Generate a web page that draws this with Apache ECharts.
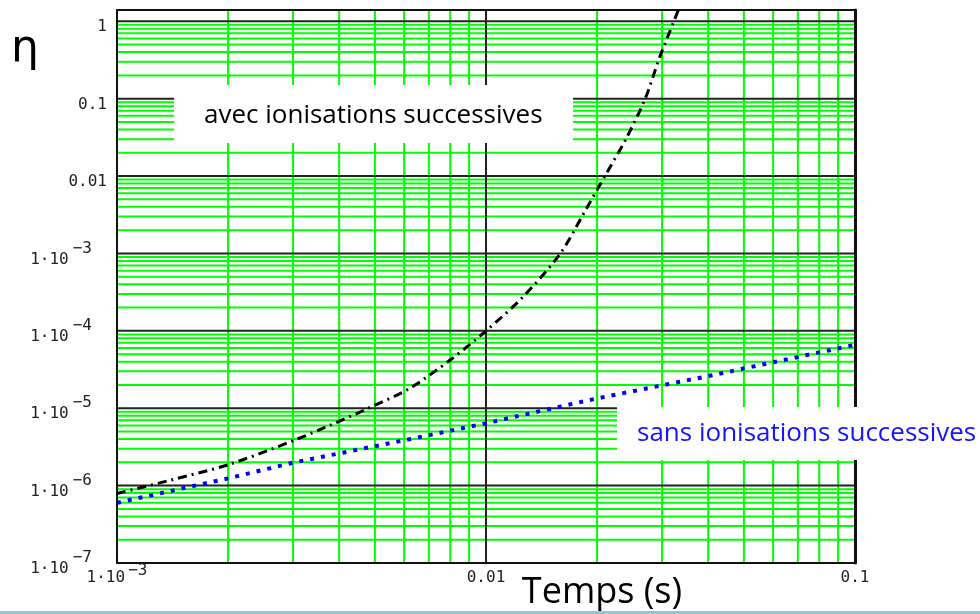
<!DOCTYPE html>
<html><head><meta charset="utf-8">
<script src="https://cdn.jsdelivr.net/npm/echarts@6/dist/echarts.min.js"></script>
<style>html,body{margin:0;padding:0;background:#fff}#c{width:980px;height:614px}</style>
</head><body><div id="c"></div>
<script>
// ---- data ----
const timeBlue = [0.001, 0.002, 0.003, 0.006, 0.01, 0.02, 0.04, 0.1];
const etaBlue  = [6.0e-7, 1.24e-6, 1.98e-6, 3.85e-6, 6.4e-6, 1.34e-5, 2.6e-5, 6.6e-5];
const timeBlack = [0.001, 0.0014, 0.002, 0.003, 0.0038, 0.0048, 0.0062, 0.008, 0.01, 0.0126, 0.0159, 0.0184, 0.021, 0.024, 0.027, 0.0296, 0.0323, 0.0332];
const etaBlack  = [7.9e-7, 1.18e-6, 1.86e-6, 3.8e-6, 6.1e-6, 1.0e-5, 1.8e-5, 4.2e-5, 1.0e-4, 2.75e-4, 1.0e-3, 3.3e-3, 1.0e-2, 3.07e-2, 0.1, 0.35, 1.0, 1.4];

// tick labels
const xTickValues = [0.001, 0.01, 0.1];
const xTickBase   = ['1·10', '0.01', '0.1'];
const xTickExp    = ['−3', '', ''];
const yTickValues = [1e-7, 1e-6, 1e-5, 1e-4, 1e-3, 0.01, 0.1, 1];
const yTickBase   = ['1·10', '1·10', '1·10', '1·10', '1·10', '0.01', '0.1', '1'];
const yTickExp    = ['−7', '−6', '−5', '−4', '−3', '', '', ''];

const xMin = 0.001, xMax = 0.1, yMin = 1e-7, yMax = 1.4;
const seriesLabels = ['avec ionisations successives', 'sans ionisations successives'];
const xName = 'Temps (s)', yName = 'η';

// ---- grid lines (decades black, 2..9 green) ----
function decadeMinors(lo, hi) {
  const out = [];
  for (let e = lo; e < hi; e++) for (let m = 2; m <= 9; m++) out.push(m * Math.pow(10, e));
  return out;
}
const xMinorLines = decadeMinors(-3, -1);
const yMinorLines = decadeMinors(-7, 0);
const xMajorLines = [0.01];
const yMajorLines = [1e-6, 1e-5, 1e-4, 1e-3, 0.01, 0.1, 1];

// items: [x, y, orientation(0 = horizontal at y, 1 = vertical at x)]
function gridItems(xs, ys) {
  return ys.map(v => [xMin, v, 0]).concat(xs.map(v => [v, yMin, 1]));
}
function gridRender(color, width) {
  return function (params, api) {
    const o = api.value(2);
    let p1, p2;
    if (o === 0) { p1 = api.coord([xMin, api.value(1)]); p2 = api.coord([xMax, api.value(1)]); }
    else { p1 = api.coord([api.value(0), yMin]); p2 = api.coord([api.value(0), yMax]); }
    return {type: 'line', shape: {x1: p1[0], y1: p1[1], x2: p2[0], y2: p2[1]},
            style: {stroke: color, lineWidth: width}, silent: true};
  };
}

function findIdx(vals, v) {
  for (let i = 0; i < vals.length; i++) if (Math.abs(Math.log10(v) - Math.log10(vals[i])) < 1e-6) return i;
  return -1;
}
const tickFont = '"DejaVu Sans Mono", monospace';
const tickColor = '#222';

const chart = echarts.init(document.getElementById('c'), null, {renderer: 'canvas'});

chart.setOption({
  animation: false,
  backgroundColor: '#fff',
  grid: {left: 117, right: 125, top: 10, bottom: 51},
  xAxis: [{
    type: 'log', logBase: 10, min: xMin, max: xMax, z: 3,
    axisLine: {show: true, onZero: false, lineStyle: {color: '#111', width: 2}},
    axisTick: {show: false}, splitLine: {show: false},
    axisLabel: {
      margin: 0, color: tickColor, fontFamily: tickFont,
      formatter: v => {
        const i = findIdx(xTickValues, v);
        if (i < 0) return '';
        return '{b|' + xTickBase[i] + '}' + (xTickExp[i] ? '{s|' + xTickExp[i] + '}' : '');
      },
      rich: {
        b: {fontSize: 16, lineHeight: 16, padding: [7, 0, 0, 0], verticalAlign: 'top', fontFamily: tickFont, color: tickColor},
        s: {fontSize: 16, lineHeight: 9, padding: [0, 0, 0, 3], verticalAlign: 'top', fontFamily: tickFont, color: tickColor}
      }
    }
  }, {
    type: 'log', logBase: 10, min: xMin, max: xMax, position: 'top', z: 3,
    axisLine: {show: true, onZero: false, lineStyle: {color: '#111', width: 2}},
    axisTick: {show: false}, axisLabel: {show: false}, splitLine: {show: false}
  }],
  yAxis: [{
    type: 'log', logBase: 10, min: yMin, max: yMax, z: 3,
    axisLine: {show: true, onZero: false, lineStyle: {color: '#111', width: 2}},
    axisTick: {show: false}, splitLine: {show: false},
    axisLabel: {
      margin: 10, color: tickColor, fontFamily: tickFont, padding: [0, 0, 10, 0],
      formatter: v => {
        const i = findIdx(yTickValues, v);
        if (i < 0) return '';
        return '{b|' + yTickBase[i] + '}' + (yTickExp[i] ? '{s|' + yTickExp[i] + '}' : '');
      },
      rich: {
        b: {fontSize: 16, lineHeight: 16, padding: [11, 0, 7, 0], verticalAlign: 'top', fontFamily: tickFont, color: tickColor},
        s: {fontSize: 16, lineHeight: 16, padding: [0, 15, 0, 4], verticalAlign: 'top', fontFamily: tickFont, color: tickColor}
      }
    }
  }, {
    type: 'log', logBase: 10, min: yMin, max: yMax, position: 'right', z: 3,
    axisLine: {show: true, onZero: false, lineStyle: {color: '#111', width: 3}},
    axisTick: {show: false}, axisLabel: {show: false}, splitLine: {show: false}
  }],
  series: [
    {
      type: 'custom', z: 1, silent: true, clip: true,
      data: gridItems(xMinorLines, yMinorLines),
      renderItem: gridRender('#00ff00', 2)
    },
    {
      type: 'custom', z: 2, silent: true, clip: true,
      data: gridItems(xMajorLines, yMajorLines),
      renderItem: gridRender('#222', 2)
    },
    {
      name: seriesLabels[1], type: 'line', z: 5, showSymbol: false, silent: true,
      data: timeBlue.map((t, i) => [t, etaBlue[i]]),
      lineStyle: {color: '#0000ff', width: 4, type: [4, 7], cap: 'butt'}
    },
    {
      name: seriesLabels[0], type: 'line', z: 6, showSymbol: false, silent: true, smooth: 0.3,
      data: timeBlack.map((t, i) => [t, etaBlack[i]]),
      lineStyle: {color: '#000', width: 3, type: [9, 5, 2, 5], cap: 'butt'}
    }
  ],
  graphic: [
    {type: 'rect', z: 50, shape: {x: 174, y: 85, width: 399, height: 58}, style: {fill: '#fff'}, silent: true},
    {type: 'text', z: 51, x: 204, y: 116, style: {text: seriesLabels[0], fill: '#000', font: '26px "Comic Sans MS", "Open Sans", sans-serif', verticalAlign: 'middle'}, silent: true},
    {type: 'rect', z: 50, shape: {x: 617, y: 407, width: 363, height: 53}, style: {fill: '#fff'}, silent: true},
    {type: 'text', z: 51, x: 637, y: 434, style: {text: seriesLabels[1], fill: '#1414ff', font: '26px "Comic Sans MS", "Open Sans", sans-serif', verticalAlign: 'middle'}, silent: true},
    {type: 'text', z: 51, x: 25, y: 50, style: {text: yName, fill: '#000', font: '44px "DejaVu Sans", sans-serif', align: 'center', verticalAlign: 'middle'}, silent: true},
    {type: 'text', z: 51, x: 602, y: 593, style: {text: xName, fill: '#000', font: '36px "Comic Sans MS", "Open Sans", sans-serif', align: 'center', verticalAlign: 'middle'}, silent: true},
    {type: 'rect', z: 51, shape: {x: 0, y: 611, width: 980, height: 3}, style: {fill: '#8cc8d8'}, silent: true}
  ]
});
</script>
</body></html>
